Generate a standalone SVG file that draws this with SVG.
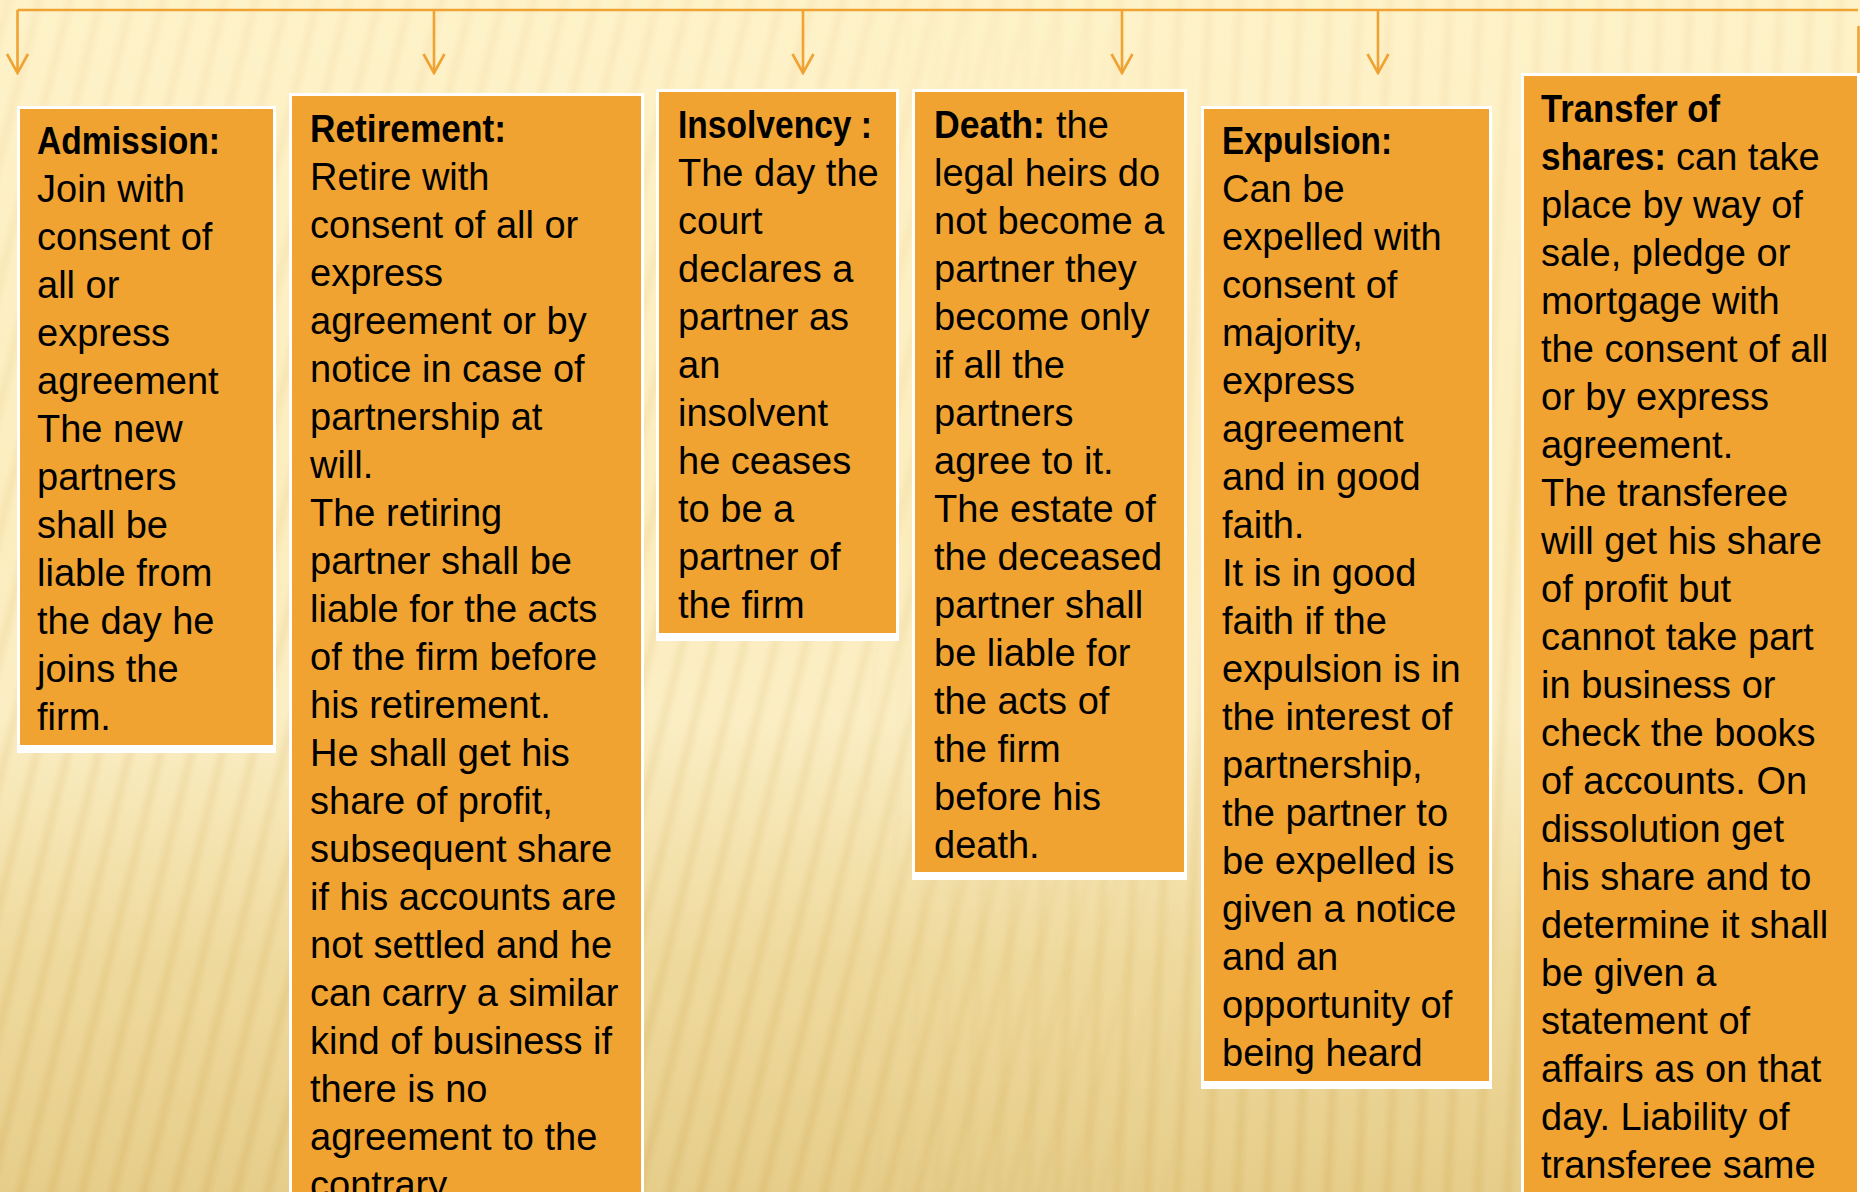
<svg xmlns="http://www.w3.org/2000/svg" width="1860" height="1192" viewBox="0 0 1860 1192">
<defs>
<style>
.outer{fill:#ffffff}
.inner{fill:#F0A331}
.t{font-family:"Liberation Sans",Arial,sans-serif;font-size:38px;fill:#000000}
.b{font-weight:bold}
.conn{stroke:#F0A232;stroke-width:2.6;fill:none}
</style>
<linearGradient id="bg" x1="0" y1="0" x2="0" y2="1">
<stop offset="0" stop-color="#FEF2C9"/>
<stop offset="0.45" stop-color="#FCEDBE"/>
<stop offset="0.6" stop-color="#FBEEC4"/>
<stop offset="0.8" stop-color="#EFDA9E"/>
<stop offset="1" stop-color="#E6CD8A"/>
</linearGradient>
<linearGradient id="stripeG" x1="0" y1="0" x2="1" y2="0">
<stop offset="0" stop-color="#C99A3A" stop-opacity="0"/>
<stop offset="0.5" stop-color="#C99A3A" stop-opacity="0.18"/>
<stop offset="1" stop-color="#C99A3A" stop-opacity="0"/>
</linearGradient>
<pattern id="stripesL" width="30" height="60" patternUnits="userSpaceOnUse" patternTransform="rotate(14)">
<rect x="0" y="0" width="16" height="60" fill="url(#stripeG)"/>
</pattern>
<pattern id="stripesR" width="30" height="60" patternUnits="userSpaceOnUse" patternTransform="rotate(3)">
<rect x="0" y="0" width="16" height="60" fill="url(#stripeG)"/>
</pattern>
<linearGradient id="fadeV" x1="0" y1="0" x2="0" y2="1">
<stop offset="0" stop-color="#fff" stop-opacity="0.35"/>
<stop offset="0.5" stop-color="#fff" stop-opacity="0.6"/>
<stop offset="1" stop-color="#fff" stop-opacity="1"/>
</linearGradient>
<linearGradient id="fadeL" x1="0" y1="0" x2="1" y2="0">
<stop offset="0" stop-color="#fff" stop-opacity="1"/>
<stop offset="0.45" stop-color="#fff" stop-opacity="1"/>
<stop offset="0.65" stop-color="#fff" stop-opacity="0"/>
</linearGradient>
<linearGradient id="fadeR" x1="0" y1="0" x2="1" y2="0">
<stop offset="0.45" stop-color="#fff" stop-opacity="0"/>
<stop offset="0.65" stop-color="#fff" stop-opacity="1"/>
<stop offset="1" stop-color="#fff" stop-opacity="1"/>
</linearGradient>
<mask id="mV" maskUnits="userSpaceOnUse" x="0" y="0" width="1860" height="1192">
<rect x="0" y="0" width="1860" height="1192" fill="url(#fadeV)"/>
</mask>
<mask id="mL" maskUnits="userSpaceOnUse" x="0" y="0" width="1860" height="1192">
<rect x="0" y="0" width="1860" height="1192" fill="url(#fadeL)"/>
</mask>
<mask id="mR" maskUnits="userSpaceOnUse" x="0" y="0" width="1860" height="1192">
<rect x="0" y="0" width="1860" height="1192" fill="url(#fadeR)"/>
</mask>
<marker id="arr" markerUnits="userSpaceOnUse" viewBox="-22 -13 24 26" markerWidth="24" markerHeight="26" refX="0" refY="0" orient="auto">
<path d="M-19,-10.5 L0,0 L-19,10.5" fill="none" stroke="#F0A232" stroke-width="2.6"/>
</marker>
</defs>

<g id="background">
<rect x="0" y="0" width="1860" height="1192" fill="url(#bg)"/>
<g mask="url(#mV)">
<rect x="0" y="0" width="1860" height="1192" fill="url(#stripesL)" mask="url(#mL)"/>
<rect x="0" y="0" width="1860" height="1192" fill="url(#stripesR)" mask="url(#mR)"/>
</g>
</g>

<g id="connectors">
<path class="conn" d="M17.5,10 H1858"/>
<path class="conn" d="M17.5,10 V73" marker-end="url(#arr)"/>
<path class="conn" d="M434,10 V73" marker-end="url(#arr)"/>
<path class="conn" d="M803,10 V73" marker-end="url(#arr)"/>
<path class="conn" d="M1122,10 V73" marker-end="url(#arr)"/>
<path class="conn" d="M1378,10 V73" marker-end="url(#arr)"/>
<path class="conn" d="M1858.5,26 V74"/>
</g>

<g id="admission">
<rect class="outer" x="17" y="106" width="259" height="647"/>
<rect class="inner" x="20" y="109" width="253" height="636"/>
<text class="t" x="37">
<tspan x="37" y="154" class="b" textLength="183" lengthAdjust="spacingAndGlyphs">Admission:</tspan>
<tspan x="37" y="202">Join with</tspan>
<tspan x="37" y="250">consent of</tspan>
<tspan x="37" y="298">all or</tspan>
<tspan x="37" y="346">express</tspan>
<tspan x="37" y="394">agreement</tspan>
<tspan x="37" y="442">The new</tspan>
<tspan x="37" y="490">partners</tspan>
<tspan x="37" y="538">shall be</tspan>
<tspan x="37" y="586">liable from</tspan>
<tspan x="37" y="634">the day he</tspan>
<tspan x="37" y="682">joins the</tspan>
<tspan x="37" y="730">firm.</tspan>
</text>
</g>

<g id="retirement">
<rect class="outer" x="289" y="93" width="355" height="1110"/>
<rect class="inner" x="292" y="96" width="349" height="1110"/>
<text class="t">
<tspan x="310" y="142" class="b" textLength="196" lengthAdjust="spacingAndGlyphs">Retirement:</tspan>
<tspan x="310" y="190">Retire with</tspan>
<tspan x="310" y="238">consent of all or</tspan>
<tspan x="310" y="286">express</tspan>
<tspan x="310" y="334">agreement or by</tspan>
<tspan x="310" y="382">notice in case of</tspan>
<tspan x="310" y="430">partnership at</tspan>
<tspan x="310" y="478">will.</tspan>
<tspan x="310" y="526">The retiring</tspan>
<tspan x="310" y="574">partner shall be</tspan>
<tspan x="310" y="622">liable for the acts</tspan>
<tspan x="310" y="670">of the firm before</tspan>
<tspan x="310" y="718">his retirement.</tspan>
<tspan x="310" y="766">He shall get his</tspan>
<tspan x="310" y="814">share of profit,</tspan>
<tspan x="310" y="862">subsequent share</tspan>
<tspan x="310" y="910">if his accounts are</tspan>
<tspan x="310" y="958">not settled and he</tspan>
<tspan x="310" y="1006">can carry a similar</tspan>
<tspan x="310" y="1054">kind of business if</tspan>
<tspan x="310" y="1102">there is no</tspan>
<tspan x="310" y="1150">agreement to the</tspan>
<tspan x="310" y="1198">contrary</tspan>
</text>
</g>

<g id="insolvency">
<rect class="outer" x="656" y="89" width="243" height="552"/>
<rect class="inner" x="659" y="92" width="237" height="541"/>
<text class="t">
<tspan x="678" y="138" class="b" textLength="194" lengthAdjust="spacingAndGlyphs">Insolvency :</tspan>
<tspan x="678" y="186">The day the</tspan>
<tspan x="678" y="234">court</tspan>
<tspan x="678" y="282">declares a</tspan>
<tspan x="678" y="330">partner as</tspan>
<tspan x="678" y="378">an</tspan>
<tspan x="678" y="426">insolvent</tspan>
<tspan x="678" y="474">he ceases</tspan>
<tspan x="678" y="522">to be a</tspan>
<tspan x="678" y="570">partner of</tspan>
<tspan x="678" y="618">the firm</tspan>
</text>
</g>

<g id="death">
<rect class="outer" x="912" y="89" width="275" height="791"/>
<rect class="inner" x="915" y="92" width="269" height="780"/>
<text class="t">
<tspan x="934" y="138" class="b" textLength="111" lengthAdjust="spacingAndGlyphs">Death:</tspan>
<tspan x="1056" y="138">the</tspan>
<tspan x="934" y="186">legal heirs do</tspan>
<tspan x="934" y="234">not become a</tspan>
<tspan x="934" y="282">partner they</tspan>
<tspan x="934" y="330">become only</tspan>
<tspan x="934" y="378">if all the</tspan>
<tspan x="934" y="426">partners</tspan>
<tspan x="934" y="474">agree to it.</tspan>
<tspan x="934" y="522">The estate of</tspan>
<tspan x="934" y="570">the deceased</tspan>
<tspan x="934" y="618">partner shall</tspan>
<tspan x="934" y="666">be liable for</tspan>
<tspan x="934" y="714">the acts of</tspan>
<tspan x="934" y="762">the firm</tspan>
<tspan x="934" y="810">before his</tspan>
<tspan x="934" y="858">death.</tspan>
</text>
</g>

<g id="expulsion">
<rect class="outer" x="1201" y="106" width="291" height="983"/>
<rect class="inner" x="1204" y="109" width="285" height="972"/>
<text class="t">
<tspan x="1222" y="154" class="b" textLength="170" lengthAdjust="spacingAndGlyphs">Expulsion:</tspan>
<tspan x="1222" y="202">Can be</tspan>
<tspan x="1222" y="250">expelled with</tspan>
<tspan x="1222" y="298">consent of</tspan>
<tspan x="1222" y="346">majority,</tspan>
<tspan x="1222" y="394">express</tspan>
<tspan x="1222" y="442">agreement</tspan>
<tspan x="1222" y="490">and in good</tspan>
<tspan x="1222" y="538">faith.</tspan>
<tspan x="1222" y="586">It is in good</tspan>
<tspan x="1222" y="634">faith if the</tspan>
<tspan x="1222" y="682">expulsion is in</tspan>
<tspan x="1222" y="730">the interest of</tspan>
<tspan x="1222" y="778">partnership,</tspan>
<tspan x="1222" y="826">the partner to</tspan>
<tspan x="1222" y="874">be expelled is</tspan>
<tspan x="1222" y="922">given a notice</tspan>
<tspan x="1222" y="970">and an</tspan>
<tspan x="1222" y="1018">opportunity of</tspan>
<tspan x="1222" y="1066">being heard</tspan>
</text>
</g>

<g id="transfer">
<rect class="outer" x="1521" y="73" width="339" height="1130"/>
<rect class="inner" x="1524" y="76" width="333" height="1130"/>
<text class="t">
<tspan x="1541" y="122" class="b" textLength="179" lengthAdjust="spacingAndGlyphs">Transfer of</tspan>
<tspan x="1541" y="170" class="b" textLength="125" lengthAdjust="spacingAndGlyphs">shares:</tspan>
<tspan x="1676" y="170">can take</tspan>
<tspan x="1541" y="218">place by way of</tspan>
<tspan x="1541" y="266">sale, pledge or</tspan>
<tspan x="1541" y="314">mortgage with</tspan>
<tspan x="1541" y="362">the consent of all</tspan>
<tspan x="1541" y="410">or by express</tspan>
<tspan x="1541" y="458">agreement.</tspan>
<tspan x="1541" y="506">The transferee</tspan>
<tspan x="1541" y="554">will get his share</tspan>
<tspan x="1541" y="602">of profit but</tspan>
<tspan x="1541" y="650">cannot take part</tspan>
<tspan x="1541" y="698">in business or</tspan>
<tspan x="1541" y="746">check the books</tspan>
<tspan x="1541" y="794">of accounts. On</tspan>
<tspan x="1541" y="842">dissolution get</tspan>
<tspan x="1541" y="890">his share and to</tspan>
<tspan x="1541" y="938">determine it shall</tspan>
<tspan x="1541" y="986">be given a</tspan>
<tspan x="1541" y="1034">statement of</tspan>
<tspan x="1541" y="1082">affairs as on that</tspan>
<tspan x="1541" y="1130">day. Liability of</tspan>
<tspan x="1541" y="1178">transferee same</tspan>
</text>
</g>
</svg>
